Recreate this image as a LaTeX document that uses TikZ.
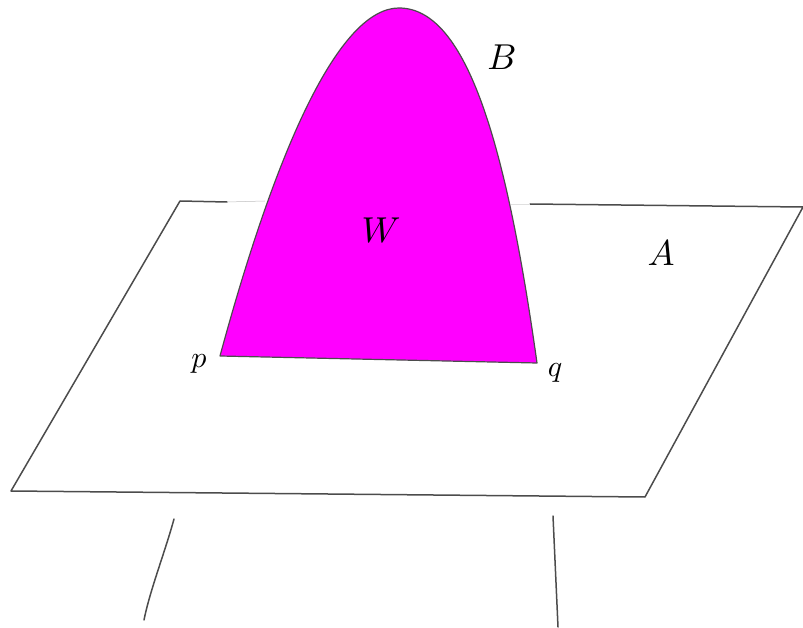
\documentclass[tikz,border=0pt]{standalone}
\tikzset{edge/.style={draw=black!70,line width=1.5pt,line cap=round,line join=round}}
\begin{document}
\begin{tikzpicture}[x=1pt,y=-1pt]
\useasboundingbox (0,0) rectangle (803,628);
\definecolor{mag}{RGB}{255,0,255}
\coordinate (tl) at (180,201);
\coordinate (tla) at (227,202);
\coordinate (tlb) at (265,201);
\coordinate (tr) at (803,207);
\coordinate (trb) at (530,204);
\coordinate (trc) at (511,204);
\coordinate (br) at (645,497);
\coordinate (bl) at (11,491);
\coordinate (p) at (220,356);
\coordinate (q) at (537,363);
\coordinate (top) at (399,8);
\filldraw[fill=mag,draw=black!70,line width=1.2pt,line join=round]
 (p) .. controls (280,135) and (342,8) .. (top)
 .. controls (468,8) and (507,150) .. (q) -- cycle;
\draw[edge] (tla) -- (tl) -- (bl) -- (br) -- (tr) -- (trb);
\draw[black!25,line width=0.5pt] (tla) -- (tlb);
\draw[black!12,line width=0.5pt] (trc) -- (trb);
\coordinate (l1) at (174,519);
\coordinate (l2) at (144,620);
\coordinate (r1) at (553,516);
\coordinate (r2) at (558,627);
\draw[edge] (l1) .. controls (165,552) and (150,590) .. (l2);
\draw[edge] (r1) -- (r2);
\node[scale=3.6] (nb) at (502,57) {$B$};
\node[scale=3.6] (nw) at (381,230) {$W$};
\node[scale=3.6] (na) at (661,253) {$A$};
\node[scale=3] (np) at (199,364) {$p$};
\node[scale=3] (nq) at (555,373) {$q$};
\end{tikzpicture}
\end{document}
